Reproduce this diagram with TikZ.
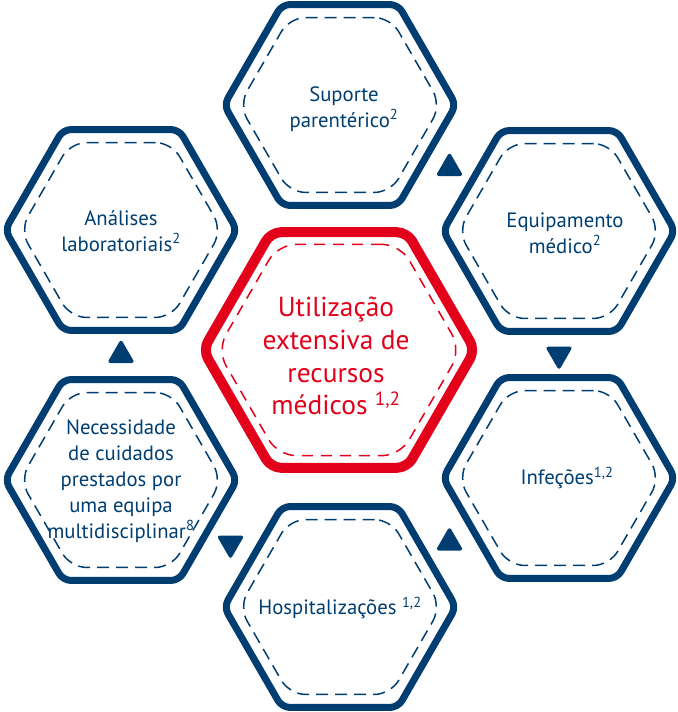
\documentclass[tikz,border=0pt]{standalone}
\usepackage{fontspec}
\setmainfont{PT Sans}
\usetikzlibrary{shapes.geometric,calc}
\definecolor{hexblue}{HTML}{003E71}
\definecolor{hexred}{HTML}{E2001A}
\begin{document}
\begin{tikzpicture}[x=1bp,y=-1bp,
  outerhex/.style={regular polygon, regular polygon sides=6, draw=hexblue, line width=7bp,
    rounded corners=8bp, minimum size=232bp, inner sep=0pt, outer sep=0pt},
  innerhex/.style={regular polygon, regular polygon sides=6, draw=hexblue, line width=1.5bp,
    dash pattern=on 12bp off 7bp, rounded corners=16bp, minimum size=202bp, inner sep=0pt},
  centerhex/.style={regular polygon, regular polygon sides=6, draw=hexred, line width=10bp,
    rounded corners=10bp, minimum size=272bp, inner sep=0pt, outer sep=0pt},
  centerinner/.style={regular polygon, regular polygon sides=6, draw=hexred, line width=1.5bp,
    dash pattern=on 11bp off 8bp, rounded corners=18bp, minimum size=244bp, inner sep=0pt},
  lbl/.style={text=hexblue, align=center, inner sep=0pt, font=\fontsize{20.8}{26}\selectfont},
  clbl/.style={text=hexred, align=center, inner sep=0pt, font=\fontsize{27.5}{33}\selectfont},
  tri/.style={regular polygon, regular polygon sides=3, fill=hexblue, draw=hexblue,
    line width=3.5bp, line join=round, minimum size=25bp, inner sep=0pt},
  tridown/.style={tri, shape border rotate=180}
]
\useasboundingbox (0,0) rectangle (678,712);

% outer hexagons
\node[outerhex] (h-top) at (340,105) {};
\node[outerhex] (h-ur)  at (559,231) {};
\node[outerhex] (h-lr)  at (559,478) {};
\node[outerhex] (h-bot) at (340,607) {};
\node[outerhex] (h-ll)  at (121,480) {};
\node[outerhex] (h-ul)  at (121,230) {};

\node[innerhex] (d-top) at (h-top) {};
\node[innerhex] (d-ur)  at (h-ur) {};
\node[innerhex] (d-lr)  at (h-lr) {};
\node[innerhex] (d-bot) at (h-bot) {};
\node[innerhex] (d-ll)  at (h-ll) {};
\node[innerhex] (d-ul)  at (h-ul) {};

% centre hexagon
\node[centerhex] (h-c) at (339,350) {};
\node[centerinner] (d-c) at (h-c) {};

% labels
\node[clbl] (t-c) at (336,356) {Utilização\\extensiva de\\recursos\\médicos \textsuperscript{1,2}};
\node[lbl] (t-top) at (344,109) {Suporte\\parentérico\textsuperscript{2}};
\node[lbl] (t-ur)  at (565,233) {Equipamento\\médico\textsuperscript{2}};
\node[lbl] (t-lr)  at (567,478) {Infeções\textsuperscript{1,2}};
\node[lbl] (t-bot) at (340,608) {Hospitalizações \textsuperscript{1,2}};
\node[lbl] (t-ll)  at (121,481) {Necessidade\\de cuidados\\prestados por\\uma equipa\\multidisciplinar\textsuperscript{8}};
\node[lbl] (t-ul)  at (121,231) {Análises\\laboratoriais\textsuperscript{2}};

% arrowheads
\node[tri]     (a1) at ($(h-top)!0.5!(h-ur)$) {};
\node[tridown] (a2) at ($(h-ur)!0.5!(h-lr)$) {};
\node[tri]     (a3) at ($(h-lr)!0.5!(h-bot)$) {};
\node[tridown] (a4) at ($(h-bot)!0.5!(h-ll)$) {};
\node[tri]     (a5) at ($(h-ll)!0.5!(h-ul)$) {};
\end{tikzpicture}
\end{document}
